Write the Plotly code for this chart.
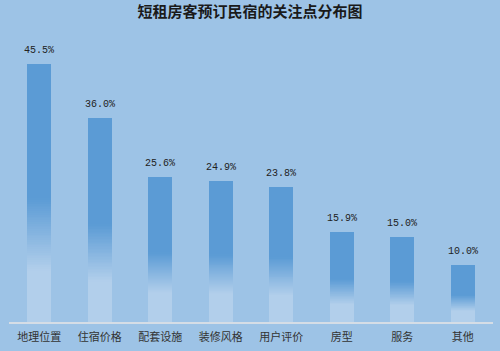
import plotly.graph_objects as go

categories = ["地理位置", "住宿价格", "配套设施", "装修风格", "用户评价", "房型", "服务", "其他"]
values = [45.5, 36.0, 25.6, 24.9, 23.8, 15.9, 15.0, 10.0]
labels = [f"{v:.1f}%" for v in values]

TOP = (91, 155, 213)
LIGHT = (178, 207, 235)
f0, f1, N = 0.2, 0.48, 40

def rgb(c):
    return f"rgb({int(round(c[0]))},{int(round(c[1]))},{int(round(c[2]))})"

def mix(a, b, t):
    return tuple(a[i] + (b[i] - a[i]) * t for i in range(3))

fig = go.Figure()
fig.add_trace(go.Bar(x=categories, y=[v * f0 for v in values], marker=dict(color=rgb(LIGHT), line=dict(width=0)),
                     hoverinfo="skip", showlegend=False))
for i in range(N):
    t = (i + 0.5) / N
    fig.add_trace(go.Bar(x=categories, y=[v * (f1 - f0) / N for v in values],
                         marker=dict(color=rgb(mix(LIGHT, TOP, t)), line=dict(width=0)),
                         hoverinfo="skip", showlegend=False))
fig.add_trace(go.Bar(x=categories, y=[v * (1 - f1) for v in values], marker=dict(color=rgb(TOP), line=dict(width=0)),
                     showlegend=False))

for c, v, lab in zip(categories, values, labels):
    fig.add_annotation(x=c, y=v, text=lab, showarrow=False, yanchor="bottom", yshift=6,
                       font=dict(family="Liberation Mono, DejaVu Sans Mono", size=10, color="#222222"))

fig.update_layout(
    width=500, height=351,
    barmode="stack", bargap=0.6,
    paper_bgcolor="#9DC3E6", plot_bgcolor="#9DC3E6",
    margin=dict(l=9, r=7, t=38, b=27),
    title=dict(text="短租房客预订民宿的关注点分布图", x=0.5, xanchor="center", y=1 - 12 / 351, yref="container",
               yanchor="middle",
               font=dict(family="Noto Sans CJK SC", size=15, color="#1a1a1a", weight="bold")),
    xaxis=dict(showline=True, linecolor="#D5DDE6", linewidth=2, showgrid=False, ticks="",
               tickfont=dict(family="Noto Sans CJK SC", size=11, color="#333333"), ticklabelstandoff=4,
               range=[-0.5, 7.5]),
    yaxis=dict(visible=False, range=[0, 50], showgrid=False, zeroline=False),
)

fig.write_html("out.html")
